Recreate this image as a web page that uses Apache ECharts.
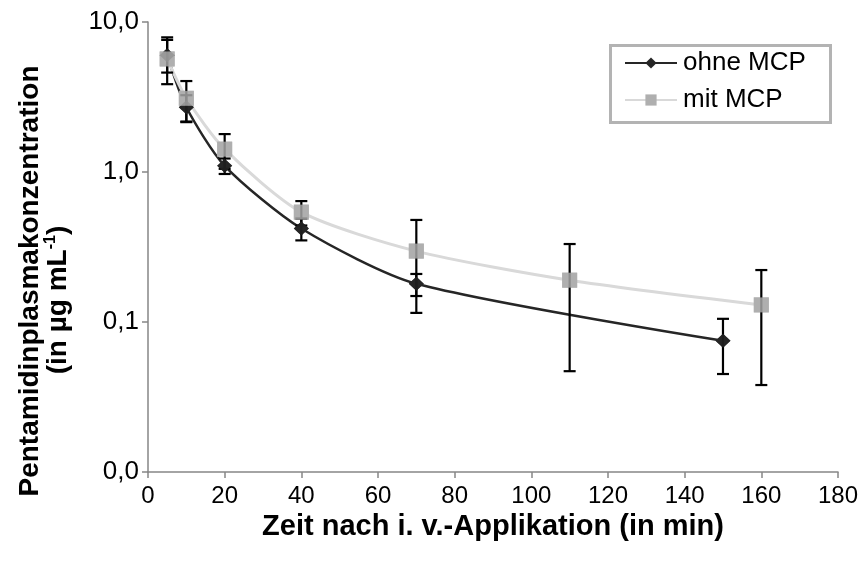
<!DOCTYPE html>
<html>
<head>
<meta charset="utf-8">
<script src="https://cdn.jsdelivr.net/npm/echarts@6/dist/echarts.min.js"></script>
<style>
html,body{margin:0;padding:0;background:#fff;}
#chart{width:861px;height:565px;}
</style>
</head>
<body>
<div id="chart"></div>
<script>
// ---- data ----
var timesOhne = [5, 10, 20, 40, 70, 150];
var ohneMCP = [6.0, 2.7, 1.1, 0.42, 0.18, 0.075];
var ohneLow = [4.6, 2.15, 0.97, 0.35, 0.149, 0.045];
var ohneHigh = [7.9, 3.25, 1.23, 0.49, 0.209, 0.105];

var timesMit = [5, 10, 20, 40, 70, 110, 160];
var mitMCP = [5.67, 3.1, 1.42, 0.54, 0.297, 0.19, 0.13];
var mitLow = [3.85, 2.17, 1.05, 0.44, 0.115, 0.047, 0.038];
var mitHigh = [7.6, 4.04, 1.79, 0.64, 0.479, 0.331, 0.222];

var seriesNames = ['ohne MCP', 'mit MCP'];
var xTitle = 'Zeit nach i. v.-Applikation (in min)';
var yTitle1 = 'Pentamidinplasmakonzentration';
var yTitle2a = '(in µg mL';
var yTitle2sup = '-1';
var yTitle2b = ')';

function pairs(xs, ys) { return xs.map(function (x, i) { return [x, ys[i]]; }); }
function errTriples(xs, lo, hi) { return xs.map(function (x, i) { return [x, lo[i], hi[i]]; }); }

var FONT = '"Liberation Sans", Arial, sans-serif';

function errorRender(params, api) {
  var x = api.value(0);
  var lo = api.coord([x, api.value(1)]);
  var hi = api.coord([x, api.value(2)]);
  var w = 6;
  var st = { stroke: '#000', lineWidth: 2.2 };
  return {
    type: 'group',
    children: [
      { type: 'line', shape: { x1: lo[0], y1: lo[1], x2: hi[0], y2: hi[1] }, style: st },
      { type: 'line', shape: { x1: lo[0] - w, y1: lo[1], x2: lo[0] + w, y2: lo[1] }, style: st },
      { type: 'line', shape: { x1: hi[0] - w, y1: hi[1], x2: hi[0] + w, y2: hi[1] }, style: st }
    ]
  };
}

var chart = echarts.init(document.getElementById('chart'), null, { renderer: 'canvas' });
var option = {
  animation: false,
  backgroundColor: '#fff',
  textStyle: { fontFamily: FONT },
  grid: { left: 148, right: 23, top: 22, bottom: 93, containLabel: false },
  legend: {
    orient: 'vertical',
    left: 624,
    top: 50,
    itemWidth: 52,
    itemHeight: 14,
    itemGap: 11,
    padding: 0,
    data: seriesNames,
    textStyle: { fontFamily: FONT, fontSize: 26, color: '#000', padding: [0, 0, 0, 1] }
  },
  xAxis: {
    type: 'value',
    min: 0, max: 180, interval: 20,
    name: xTitle,
    nameLocation: 'middle',
    nameGap: 36,
    nameTextStyle: { fontFamily: FONT, fontSize: 29, fontWeight: 'bold', color: '#000', verticalAlign: 'top' },
    axisLine: { lineStyle: { color: '#868686', width: 1.5 } },
    axisTick: { show: true, length: 6, lineStyle: { color: '#868686', width: 1.5 } },
    axisLabel: { fontFamily: FONT, fontSize: 24, color: '#000', margin: 12 },
    splitLine: { show: false }
  },
  yAxis: {
    type: 'log',
    logBase: 10,
    min: 0.01, max: 10,
    axisLine: { show: true, lineStyle: { color: '#868686', width: 1.5 } },
    axisTick: { show: true, length: 6, lineStyle: { color: '#868686', width: 1.5 } },
    axisLabel: {
      fontFamily: FONT, fontSize: 26, color: '#000', margin: 9,
      formatter: function (v) { return v.toFixed(1).replace('.', ','); }
    },
    splitLine: { show: false }
  },
  graphic: [
    {
      type: 'rect', left: 608, top: 43, z: 10,
      shape: { width: 220, height: 77 },
      style: { fill: 'none', stroke: '#b3b3b3', lineWidth: 3 }
    },
    {
      type: 'text', x: 30, y: 281, rotation: Math.PI / 2, z: 10,
      style: {
        text: yTitle1,
        align: 'center', verticalAlign: 'middle',
        fontFamily: FONT, fontSize: 28, fontWeight: 'bold', fill: '#000'
      }
    },
    {
      type: 'text', x: 58, y: 300, rotation: Math.PI / 2, z: 10,
      style: {
        text: '{b|' + yTitle2a + '}{s|' + yTitle2sup + '}{b|' + yTitle2b + '}',
        align: 'center', verticalAlign: 'middle',
        rich: {
          b: { fontFamily: FONT, fontSize: 28, fontWeight: 'bold', fill: '#000', lineHeight: 30 },
          s: { fontFamily: FONT, fontSize: 16, fontWeight: 'bold', fill: '#000', lineHeight: 30, padding: [0, 0, 14, 0] }
        }
      }
    }
  ],
  series: [
    {
      name: seriesNames[0], type: 'line', data: pairs(timesOhne, ohneMCP), z: 2,
      smooth: 0.25, symbol: 'diamond', symbolSize: [15, 14],
      lineStyle: { color: '#262626', width: 2.5 },
      itemStyle: { color: '#262626' }
    },
    {
      name: seriesNames[1], type: 'line', data: pairs(timesMit, mitMCP), z: 2,
      smooth: 0.25, symbol: 'rect', symbolSize: 15,
      lineStyle: { color: '#d9d9d9', width: 3 },
      itemStyle: { color: '#afafaf' }
    },
    {
      type: 'custom', name: 'errOhne', data: errTriples(timesOhne, ohneLow, ohneHigh),
      renderItem: errorRender, z: 3, silent: true
    },
    {
      type: 'custom', name: 'errMit', data: errTriples(timesMit, mitLow, mitHigh),
      renderItem: errorRender, z: 3, silent: true
    },
    {
      type: 'scatter', name: 'mOhne', data: pairs(timesOhne, ohneMCP), z: 4,
      symbol: 'diamond', symbolSize: [15, 14], itemStyle: { color: '#262626' }, silent: true
    },
    {
      type: 'scatter', name: 'mMit', data: pairs(timesMit, mitMCP), z: 4,
      symbol: 'rect', symbolSize: 15, itemStyle: { color: '#afafaf' }, silent: true
    }
  ]
};
chart.setOption(option);
</script>
</body>
</html>
